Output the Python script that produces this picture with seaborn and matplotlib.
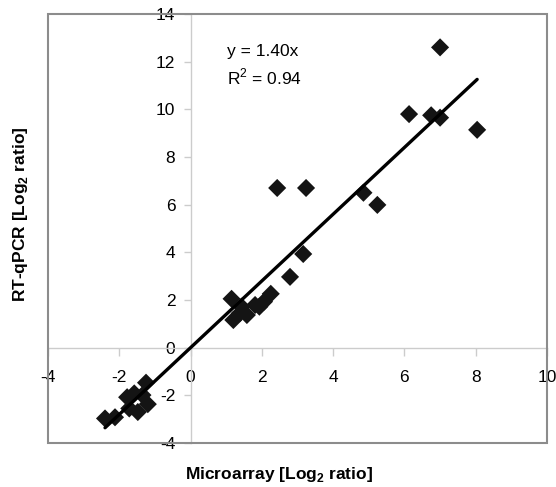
import numpy as np
import pandas as pd
import seaborn as sns
import matplotlib.pyplot as plt
from matplotlib.patches import Rectangle

# --- DATA ---
microarray = [-2.40, -2.12, -1.78, -1.72, -1.58, -1.48, -1.35, -1.25, -1.20,
              1.15, 1.20, 1.38, 1.43, 1.58, 1.81, 1.93, 2.06, 2.25,
              2.79, 3.16, 2.43, 3.24, 4.85, 5.24,
              6.13, 6.75, 7.00, 7.00, 8.04]
rt_qpcr = [-2.97, -2.92, -2.08, -2.55, -1.92, -2.70, -1.99, -1.47, -2.37,
           2.05, 1.16, 1.44, 1.72, 1.37, 1.79, 1.72, 1.93, 2.26,
           2.97, 3.93, 6.70, 6.70, 6.50, 5.99,
           9.80, 9.75, 9.65, 12.60, 9.14]
slope = 1.40
r_squared = 0.94
x_ticks = list(range(-4, 11, 2))
y_ticks = list(range(-4, 15, 2))

df = pd.DataFrame({'Microarray': microarray, 'RT-qPCR': rt_qpcr})
fit = pd.DataFrame({'x': [min(microarray), max(microarray)]})
fit['y'] = slope * fit['x']

sns.set_theme(style="white")
plt.rcParams['font.family'] = ['Liberation Sans', 'DejaVu Sans']
plt.rcParams['mathtext.fontset'] = 'custom'
plt.rcParams['mathtext.rm'] = 'Liberation Sans'
plt.rcParams['mathtext.bf'] = 'Liberation Sans:bold'
plt.rcParams['axes.unicode_minus'] = False
plt.rcParams['text.color'] = 'black'

fig = plt.figure(figsize=(5.56, 4.87), dpi=100)
ax = fig.add_axes([48 / 556, 1 - 443 / 487, 499 / 556, 429 / 487])

sns.scatterplot(data=df, x='Microarray', y='RT-qPCR', marker='D', s=85,
                color='#141414', edgecolor='none', ax=ax, zorder=3)
sns.lineplot(data=fit, x='x', y='y', color='black', linewidth=2.4, ax=ax, zorder=4)

ax.set_xlim(-4, 10)
ax.set_ylim(-4, 14)
ax.set_xticks(x_ticks)
ax.set_yticks(y_ticks)
ax.set_xlabel('')
ax.set_ylabel('')

# axes crossing at zero, Excel style
for side in ['top', 'right']:
    ax.spines[side].set_visible(False)
ax.spines['left'].set_position(('data', 0))
ax.spines['bottom'].set_position(('data', 0))
for side in ['left', 'bottom']:
    ax.spines[side].set_color('#cccccc')
    ax.spines[side].set_linewidth(1.0)
ax.tick_params(axis='x', direction='out', length=6, width=1, color='#cccccc',
               labelsize=12.5, labelcolor='black', pad=10, bottom=True)
ax.tick_params(axis='y', direction='out', length=5, width=1, color='#cccccc',
               labelsize=12.5, labelcolor='black', pad=6, left=True)

# plot area border
ax.add_patch(Rectangle((0, 0), 1, 1, transform=ax.transAxes, fill=False,
                       edgecolor='#8c8c8c', linewidth=1.5, clip_on=False, zorder=5))

ax.text(1.02, 12.42, f'y = {slope:.2f}x', fontsize=12.5, color='black',
        ha='left', va='center')
ax.text(1.02, 11.37, f'R$^2$ = {r_squared:.2f}', fontsize=12.5, color='black',
        ha='left', va='center')

fig.text(279 / 556, 1 - 474 / 487, r'Microarray [Log$_\mathbf{2}$ ratio]',
         fontsize=12.5, fontweight='bold', color='black', ha='center', va='center')
fig.text(21 / 556, 1 - 214 / 487, r'RT-qPCR [Log$_\mathbf{2}$ ratio]',
         fontsize=12.5, fontweight='bold', color='black', ha='center', va='center',
         rotation=90)

plt.savefig('out.png', dpi=100)
